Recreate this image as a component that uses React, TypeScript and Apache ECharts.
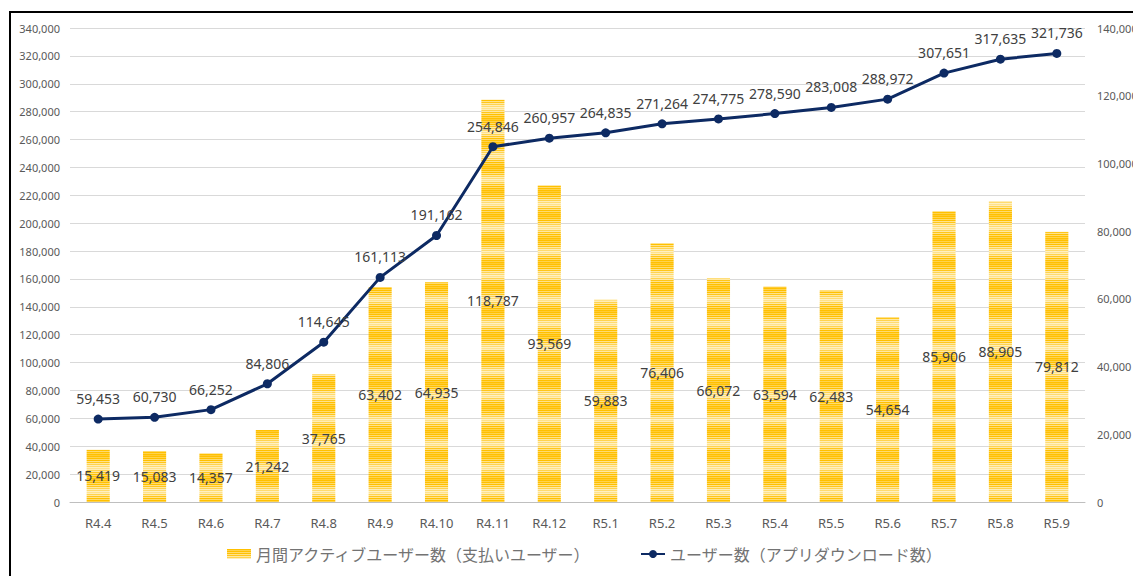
import React, { useEffect, useRef } from "react";
import * as echarts from "echarts";

// Months (Reiwa era)
const categories = [
  "R4.4", "R4.5", "R4.6", "R4.7", "R4.8", "R4.9", "R4.10", "R4.11", "R4.12",
  "R5.1", "R5.2", "R5.3", "R5.4", "R5.5", "R5.6", "R5.7", "R5.8", "R5.9",
];

// Monthly active (paying) users — right axis
const activeUsers = [
  15419, 15083, 14357, 21242, 37765, 63402, 64935, 118787, 93569,
  59883, 76406, 66072, 63594, 62483, 54654, 85906, 88905, 79812,
];

// Cumulative app downloads — left axis
const downloadUsers = [
  59453, 60730, 66252, 84806, 114645, 161113, 191162, 254846, 260957,
  264835, 271264, 274775, 278590, 283008, 288972, 307651, 317635, 321736,
];

const barName = "月間アクティブユーザー数（支払いユーザー）";
const lineName = "ユーザー数（アプリダウンロード数）";

const numFont = "'Noto Sans', 'Liberation Sans', sans-serif";
const jpFont = "'Noto Sans CJK JP', 'Noto Sans', sans-serif";

const fmt = (v: number) => v.toLocaleString("en-US");

// Horizontal striped yellow fill for the bars
function makeStripePattern(): string {
  const c = document.createElement("canvas");
  c.width = 4;
  c.height = 24;
  const ctx = c.getContext("2d")!;
  const rows = [
    "#FFC000", "#FFD34D", "#FFC000", "#FFDB6E", "#FFC000", "#FFE28A",
    "#FFC61A", "#FFE8A3", "#FFD34D", "#FFEDB8", "#FFDB6E", "#FFF0C2",
    "#FFE28A", "#FFEDB8", "#FFD34D", "#FFE8A3", "#FFC61A", "#FFE28A",
    "#FFC000", "#FFDB6E", "#FFC000", "#FFD34D", "#FFC000", "#FFCB33",
  ];
  rows.forEach((col, i) => {
    ctx.fillStyle = col;
    ctx.fillRect(0, i, 4, 1);
  });
  return c.toDataURL();
}

export default function App() {
  const ref = useRef<HTMLDivElement>(null);

  useEffect(() => {
    document.body.style.margin = "0";
    if (!ref.current) return;
    const chart = echarts.init(ref.current, undefined, { renderer: "svg" });
    const stripe = { image: makeStripePattern(), repeat: "repeat" } as any;

    chart.setOption({
      animation: false,
      backgroundColor: "#ffffff",
      grid: { left: 70, right: 48, top: 28, bottom: 74, outerBoundsMode: "none" },
      legend: {
        bottom: 9,
        left: 222,
        itemGap: 48,
        itemWidth: 24,
        itemHeight: 10,
        textStyle: { fontFamily: jpFont, fontSize: 16, color: "#737373" },
        data: [
          { name: barName, icon: "rect", itemStyle: { color: stripe } },
          { name: lineName },
        ],
      },
      xAxis: {
        type: "category",
        data: categories,
        axisTick: { show: false },
        axisLine: { lineStyle: { color: "#BFBFBF", width: 1 } },
        axisLabel: { fontFamily: numFont, fontSize: 13, color: "#595959", margin: 14 },
      },
      yAxis: [
        {
          type: "value",
          min: 0,
          max: 340000,
          interval: 20000,
          axisLine: { show: false },
          axisTick: { show: false },
          splitLine: { lineStyle: { color: "#D9D9D9", width: 1 } },
          axisLabel: { fontFamily: numFont, fontSize: 11, color: "#595959", margin: 10, formatter: fmt },
        },
        {
          type: "value",
          min: 0,
          max: 140000,
          interval: 20000,
          axisLine: { show: false },
          axisTick: { show: false },
          splitLine: { show: false },
          axisLabel: { fontFamily: numFont, fontSize: 11, color: "#595959", margin: 12, formatter: fmt },
        },
      ],
      series: [
        {
          name: barName,
          type: "bar",
          yAxisIndex: 1,
          data: activeUsers,
          barWidth: "41%",
          itemStyle: { color: stripe },
          label: {
            show: true,
            position: "inside",
            fontFamily: numFont,
            fontSize: 14,
            color: "#404040",
            formatter: (p: any) => fmt(p.value),
          },
          z: 2,
        },
        {
          name: lineName,
          type: "line",
          yAxisIndex: 0,
          data: downloadUsers,
          symbol: "circle",
          symbolSize: 9,
          lineStyle: { color: "#0D2A63", width: 3 },
          itemStyle: { color: "#0D2A63" },
          label: {
            show: true,
            position: "top",
            distance: 9,
            fontFamily: numFont,
            fontSize: 14,
            color: "#404040",
            formatter: (p: any) => fmt(p.value),
          },
          z: 3,
        },
      ],
    });

    return () => chart.dispose();
  }, []);

  return (
    <div style={{ position: "relative", width: 1133, height: 576, overflow: "hidden", background: "#fff" }}>
      <div ref={ref} style={{ position: "absolute", left: 0, top: 0, width: 1133, height: 576 }} />
      <div
        style={{
          position: "absolute",
          left: 9,
          top: 11,
          width: 1124,
          height: 565,
          borderTop: "2px solid #000",
          borderLeft: "2px solid #000",
          boxSizing: "border-box",
          pointerEvents: "none",
        }}
      />
    </div>
  );
}
